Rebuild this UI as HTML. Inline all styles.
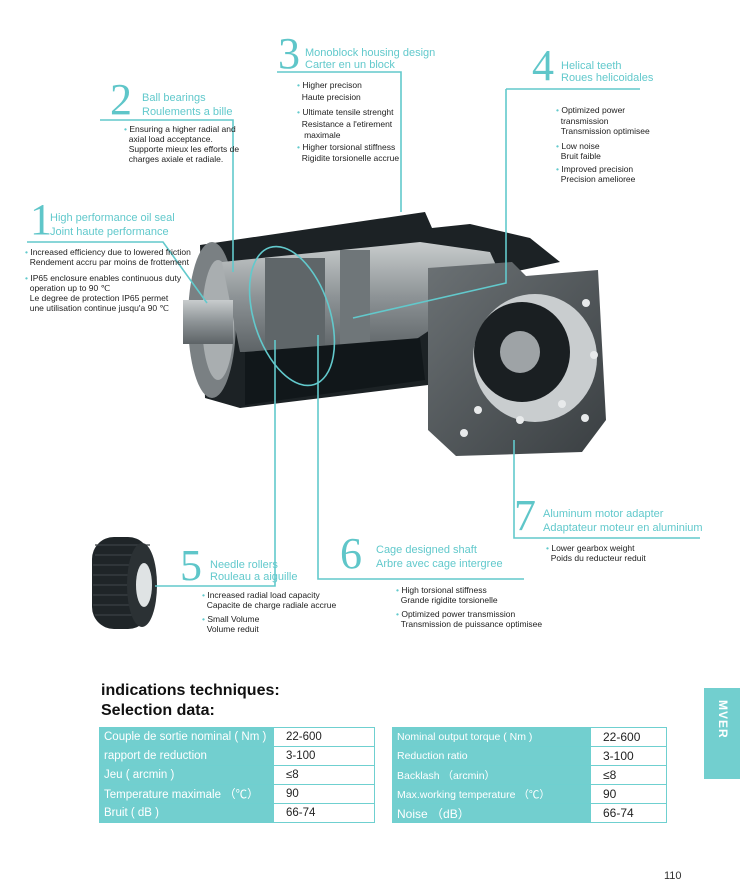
<!DOCTYPE html>
<html><head><meta charset="utf-8"><style>
body{margin:0;background:#fff;}
#p{position:relative;width:740px;height:895px;overflow:hidden;font-family:"Liberation Sans",sans-serif;}
.t{position:absolute;white-space:nowrap;}
.c{color:#62c9cc;font-size:11px;line-height:12px;}
.d{color:#5fc6c9;font-family:"Liberation Serif",serif;font-size:44px;line-height:40px;}
.b{color:#222;font-size:8.5px;line-height:10px;}
.b i{color:#62c9cc;font-style:normal;}
table{position:absolute;border-collapse:collapse;font-size:11.5px;table-layout:fixed;}
td{border:1.5px solid #6fd0d0;height:18px;padding:0 4px;white-space:nowrap;overflow:hidden;}
td.l{background:#72cfcf;color:#fff;}
td.v{background:#fff;color:#222;padding-left:12px;}
</style></head><body><div id="p">
<svg width="740" height="895" style="position:absolute;left:0;top:0">
<defs>
<linearGradient id="g1" x1="0" y1="0" x2="0" y2="1"><stop offset="0" stop-color="#c8cccd"/><stop offset=".5" stop-color="#8d9396"/><stop offset="1" stop-color="#5d6366"/></linearGradient>
<linearGradient id="g2" x1="0" y1="0" x2="1" y2="1"><stop offset="0" stop-color="#6b7174"/><stop offset="1" stop-color="#3a3f42"/></linearGradient>
</defs>
<polygon points="200,245 425,212 432,228 470,224 530,238 560,262 428,290 428,385 240,408 205,398" fill="#1c2225"/>
<ellipse cx="212" cy="320" rx="24" ry="78" fill="#7a8083"/>
<ellipse cx="218" cy="320" rx="16" ry="60" fill="#a9aeb0"/>
<polygon points="222,262 420,242 490,252 505,285 430,330 400,350 240,352" fill="url(#g1)"/>
<rect x="265" y="258" width="60" height="92" fill="#5f6669"/>
<rect x="340" y="250" width="30" height="98" fill="#6f7679"/>
<rect x="183" y="300" width="50" height="44" fill="url(#g1)"/>
<polygon points="245,352 420,338 425,380 245,405" fill="#11171a"/>
<polygon points="428,268 512,262 526,276 598,270 606,420 582,452 456,456 428,430" fill="url(#g2)"/>
<ellipse cx="535" cy="358" rx="62" ry="64" fill="#c9cdcf"/>
<ellipse cx="522" cy="352" rx="48" ry="50" fill="#1a1f22"/>
<ellipse cx="520" cy="352" rx="20" ry="21" fill="#9ea3a6"/>
<g fill="#e8eaeb"><circle cx="586" cy="303" r="4"/><circle cx="594" cy="355" r="4"/><circle cx="562" cy="404" r="4"/><circle cx="520" cy="420" r="4"/><circle cx="478" cy="410" r="4"/><circle cx="585" cy="418" r="4"/><circle cx="464" cy="433" r="4"/></g>
<rect x="92" y="537" width="58" height="92" rx="22" fill="#1f2528"/>
<g stroke="#3a4144" stroke-width="1.2"><line x1="95" y1="545" x2="150" y2="545"/><line x1="95" y1="555" x2="150" y2="555"/><line x1="93" y1="565" x2="150" y2="565"/><line x1="93" y1="575" x2="150" y2="575"/><line x1="93" y1="585" x2="150" y2="585"/><line x1="93" y1="595" x2="150" y2="595"/><line x1="93" y1="605" x2="150" y2="605"/><line x1="95" y1="615" x2="150" y2="615"/></g>
<ellipse cx="142" cy="585" rx="15" ry="42" fill="#2b3134"/>
<ellipse cx="144" cy="585" rx="8" ry="22" fill="#dfe3e4"/>
<g stroke="#62c9cc" stroke-width="1.6" fill="none">
<polyline points="27,242 163,242 207,303"/>
<polyline points="100,120 233,120 233,272"/>
<polyline points="277,72 401,72 401,212"/>
<polyline points="506,89 640,89"/>
<polyline points="506,89 506,283 353,318"/>
<ellipse cx="292" cy="316" rx="38" ry="72" transform="rotate(-18 292 316)"/>
<polyline points="155,586 275,586 275,340"/>
<polyline points="318,335 318,579 524,579"/>
<polyline points="514,440 514,538 700,538"/>
</g>
</svg>

<div class="t d" style="left:30px;top:200px">1</div>
<div class="t c" style="left:50px;top:212px">High performance oil seal<br><span style="line-height:16px">Joint haute performance</span></div>
<div class="t b" style="left:25px;top:247px"><i>•</i> Increased efficiency due to lowered friction<br>&nbsp;&nbsp;Rendement accru par moins de frottement<br><div style="height:6px"></div><i>•</i> IP65 enclosure enables continuous duty<br>&nbsp;&nbsp;operation up to 90 ℃<br>&nbsp;&nbsp;Le degree de protection IP65 permet<br>&nbsp;&nbsp;une utilisation continue jusqu'a 90 ℃</div>

<div class="t d" style="left:110px;top:80px">2</div>
<div class="t c" style="left:142px;top:92px">Ball bearings<br><span style="line-height:16px">Roulements a bille</span></div>
<div class="t b" style="left:124px;top:124px"><i>•</i> Ensuring a higher radial and<br>&nbsp;&nbsp;axial load acceptance.<br>&nbsp;&nbsp;Supporte mieux les efforts de<br>&nbsp;&nbsp;charges axiale et radiale.</div>

<div class="t d" style="left:278px;top:34px">3</div>
<div class="t c" style="left:305px;top:47px">Monoblock housing design<br>Carter en un block</div>
<div class="t b" style="left:297px;top:80px;line-height:11.5px"><i>•</i> Higher precison<br>&nbsp;&nbsp;Haute precision<br><div style="height:4px"></div><i>•</i> Ultimate tensile strenght<br>&nbsp;&nbsp;Resistance a l'etirement<br>&nbsp;&nbsp;&nbsp;maximale<br><i>•</i> Higher torsional stiffness<br>&nbsp;&nbsp;Rigidite torsionelle accrue</div>

<div class="t d" style="left:532px;top:46px">4</div>
<div class="t c" style="left:561px;top:60px">Helical teeth<br>Roues helicoidales</div>
<div class="t b" style="left:556px;top:105px;line-height:10.5px"><i>•</i> Optimized power<br>&nbsp;&nbsp;transmission<br>&nbsp;&nbsp;Transmission optimisee<br><div style="height:4px"></div><i>•</i> Low noise<br>&nbsp;&nbsp;Bruit faible<br><div style="height:2px"></div><i>•</i> Improved precision<br>&nbsp;&nbsp;Precision amelioree</div>

<div class="t d" style="left:180px;top:546px">5</div>
<div class="t c" style="left:210px;top:559px">Needle rollers<br>Rouleau a aiguille</div>
<div class="t b" style="left:202px;top:590px"><i>•</i> Increased radial load capacity<br>&nbsp;&nbsp;Capacite de charge radiale accrue<br><div style="height:4px"></div><i>•</i> Small Volume<br>&nbsp;&nbsp;Volume reduit</div>

<div class="t d" style="left:340px;top:534px">6</div>
<div class="t c" style="left:376px;top:544px">Cage designed shaft<br><span style="line-height:16px">Arbre avec cage intergree</span></div>
<div class="t b" style="left:396px;top:585px"><i>•</i> High torsional stiffness<br>&nbsp;&nbsp;Grande rigidite torsionelle<br><div style="height:4px"></div><i>•</i> Optimized power transmission<br>&nbsp;&nbsp;Transmission de puissance optimisee</div>

<div class="t d" style="left:514px;top:496px">7</div>
<div class="t c" style="left:543px;top:508px">Aluminum motor adapter<br><span style="line-height:16px">Adaptateur moteur en aluminium</span></div>
<div class="t b" style="left:546px;top:543px"><i>•</i> Lower gearbox weight<br>&nbsp;&nbsp;Poids du reducteur reduit</div>

<div class="t" style="left:101px;top:681px;font-weight:bold;font-size:16px;line-height:20px;color:#111">indications techniques:<br>Selection data:</div>

<table style="left:99px;top:727px;width:275px">
<colgroup><col style="width:174px"><col style="width:101px"></colgroup>
<tr><td class="l">Couple de sortie nominal ( Nm )</td><td class="v">22-600</td></tr>
<tr><td class="l">rapport de reduction</td><td class="v">3-100</td></tr>
<tr><td class="l">Jeu ( arcmin )</td><td class="v">≤8</td></tr>
<tr><td class="l">Temperature maximale （℃）</td><td class="v">90</td></tr>
<tr><td class="l">Bruit ( dB )</td><td class="v">66-74</td></tr>
</table>
<table style="left:392px;top:727px;width:274px;font-size:10.5px">
<colgroup><col style="width:198px"><col style="width:76px"></colgroup>
<tr><td class="l">Nominal output torque ( Nm )</td><td class="v" style="font-size:12px">22-600</td></tr>
<tr><td class="l">Reduction ratio</td><td class="v" style="font-size:12px">3-100</td></tr>
<tr><td class="l">Backlash （arcmin）</td><td class="v" style="font-size:12px">≤8</td></tr>
<tr><td class="l">Max.working temperature （℃）</td><td class="v" style="font-size:12px">90</td></tr>
<tr><td class="l" style="font-size:12px">Noise （dB）</td><td class="v" style="font-size:12px">66-74</td></tr>
</table>

<div style="position:absolute;left:704px;top:688px;width:36px;height:91px;background:#72cfcf"></div>
<div class="t" style="top:700px;transform:rotate(90deg);transform-origin:0 0;color:#fff;font-weight:bold;font-size:12px;letter-spacing:1px;left:730px">MVER</div>

<div class="t" style="left:664px;top:870px;font-size:11px;color:#333">110</div>
</div></body></html>
